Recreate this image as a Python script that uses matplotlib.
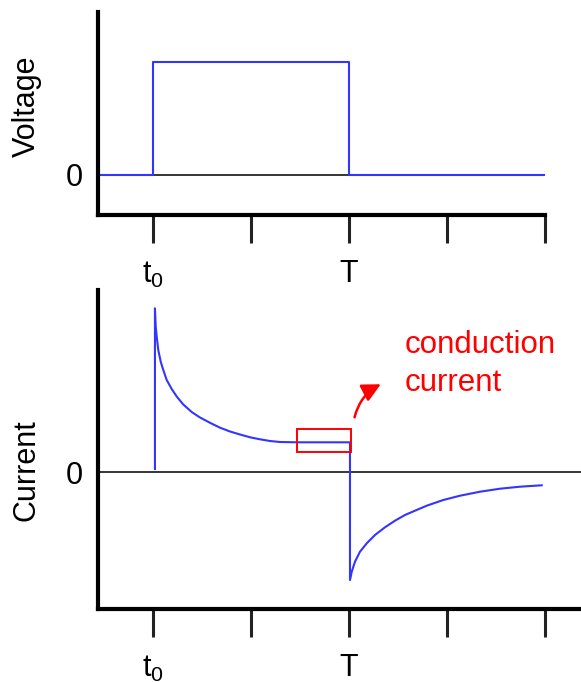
import matplotlib.pyplot as plt
from matplotlib.patches import Rectangle

plt.rcParams['font.family'] = ['Liberation Sans', 'DejaVu Sans']
plt.rcParams['mathtext.fontset'] = 'custom'
plt.rcParams['mathtext.rm'] = 'Liberation Sans'
plt.rcParams['mathtext.it'] = 'Liberation Sans'

# time axis: t0 = 1, T = 3
tick_pos = [1, 2, 3, 4, 5]
tick_labels = [r'$\mathrm{t_0}$', '', 'T', '', '']

# applied voltage (square pulse)
volt_t = [0.46, 1.0, 1.0, 3.0, 3.0, 5.0]
volt_v = [0.0, 0.0, 1.0, 1.0, 0.0, 0.0]

cur_t = [1.02, 1.02, 1.028, 1.038, 1.054, 1.079, 1.105, 1.140, 1.191, 1.242,
         1.309, 1.395, 1.480, 1.582, 1.684, 1.786, 1.888, 1.990, 2.092, 2.194,
         2.296, 2.466, 3.01,
         3.01, 3.028, 3.061, 3.112, 3.181, 3.265, 3.367, 3.469, 3.571, 3.673,
         3.793, 3.962, 4.133, 4.337, 4.541, 4.745, 4.966]
cur_i = [0.03, 1.637, 1.453, 1.353, 1.22, 1.103, 1.02, 0.92, 0.83, 0.755,
         0.675, 0.60, 0.545, 0.492, 0.443, 0.405, 0.375, 0.347, 0.327, 0.31,
         0.30, 0.297, 0.297,
         -1.08, -0.997, -0.897, -0.797, -0.713, -0.63, -0.553, -0.487, -0.43, -0.387,
         -0.337, -0.28, -0.237, -0.197, -0.167, -0.147, -0.133]

# highlighted region (conduction current)
box_t = (2.47, 3.024)
box_i = (0.197, 0.43)

BLUE = '#3434ff'
W, H = 581, 682


def style_axis(ax, ylabel_text, label_xy):
    for side in ('top', 'right'):
        ax.spines[side].set_visible(False)
    for side in ('left', 'bottom'):
        ax.spines[side].set_linewidth(3)
        ax.spines[side].set_color('black')
    ax.set_xticks(tick_pos)
    ax.set_xticklabels(tick_labels)
    ax.set_yticks([0])
    ax.set_yticklabels(['0'])
    ax.tick_params(axis='x', length=20, width=2.2, color='#222222',
                   direction='out', pad=12, labelsize=22)
    ax.tick_params(axis='y', length=0, pad=11, labelsize=22)
    ax.axhline(0, color='black', lw=1.1, zorder=1)
    fig.text(label_xy[0] / W, 1 - label_xy[1] / H, ylabel_text,
             rotation=90, ha='center', va='center', fontsize=22)


fig = plt.figure(figsize=(5.81, 6.82), dpi=100)

# top panel: voltage
ax1 = fig.add_axes([98 / W, (H - 215) / H, (545 - 98) / W, (215 - 12) / H])
ax1.plot(volt_t, volt_v, color=BLUE, lw=1.5, zorder=2)
ax1.set_xlim(0.439, 5.0)
ax1.set_ylim(-0.357, 1.44)
style_axis(ax1, 'Voltage', (27, 106))

# bottom panel: current
ax2 = fig.add_axes([98 / W, (H - 609) / H, (W - 98) / W, (609 - 290) / H])
ax2.plot(cur_t, cur_i, color=BLUE, lw=1.5, zorder=2, solid_joinstyle='round')
ax2.set_xlim(0.439, 5.367)
ax2.set_ylim(-1.37, 1.82)
style_axis(ax2, 'Current', (27, 470))

ax2.add_patch(Rectangle((box_t[0], box_i[0]), box_t[1] - box_t[0], box_i[1] - box_i[0],
                        fill=False, edgecolor='red', lw=1.4, zorder=3))
ax2.annotate('', xy=(3.35, 0.89), xytext=(3.05, 0.52),
             arrowprops=dict(arrowstyle='-|>', color='red', lw=1.8,
                             mutation_scale=28,
                             connectionstyle='arc3,rad=-0.25'))
ax2.text(3.571, 1.19, 'conduction', color='red', fontsize=22.5, va='baseline')
ax2.text(3.571, 0.81, 'current', color='red', fontsize=22.5, va='baseline')

fig.savefig('out.png', dpi=100)
